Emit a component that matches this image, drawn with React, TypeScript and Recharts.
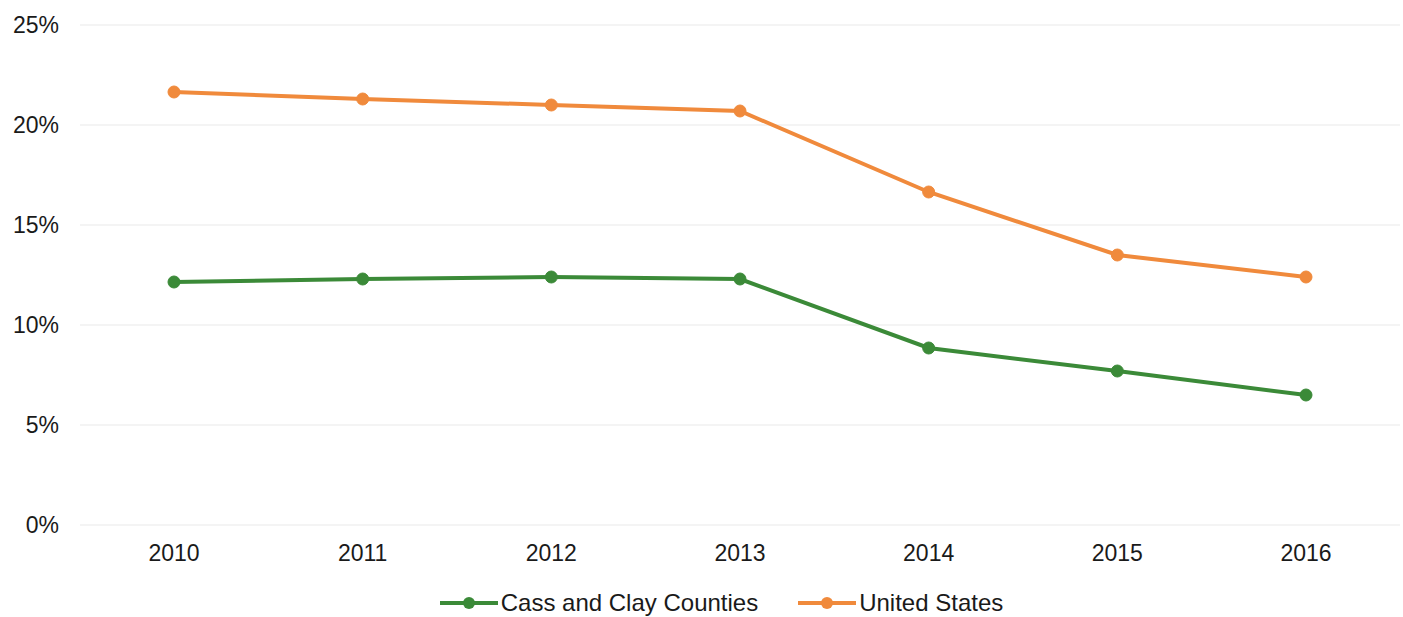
import { CartesianGrid, Line, LineChart, XAxis, YAxis } from "recharts";

const years = ["2010", "2011", "2012", "2013", "2014", "2015", "2016"];
const cassClay = [12.15, 12.3, 12.4, 12.3, 8.85, 7.7, 6.5];
const unitedStates = [21.65, 21.3, 21.0, 20.7, 16.65, 13.5, 12.4];
const yTicks = [0, 5, 10, 15, 20, 25];

const GREEN = "#3b8a38";
const ORANGE = "#f08a3c";
const FONT = "'Liberation Sans', Arial, sans-serif";

const series = [
  { key: "cass", name: "Cass and Clay Counties", color: GREEN },
  { key: "us", name: "United States", color: ORANGE },
];

const data = years.map((year, i) => ({
  year,
  cass: cassClay[i],
  us: unitedStates[i],
}));

function LegendRow() {
  return (
    <div
      style={{
        position: "absolute",
        left: 0,
        top: 589,
        width: 1403,
        display: "flex",
        justifyContent: "center",
        gap: 40,
        fontFamily: FONT,
        fontSize: 24,
        lineHeight: "28px",
        color: "#1a1a1a",
        paddingLeft: 40,
        boxSizing: "border-box",
      }}
    >
      {series.map((s) => (
        <span key={s.key} style={{ display: "flex", alignItems: "center", gap: 3 }}>
          <svg width={58} height={14}>
            <line x1={0} y1={7} x2={58} y2={7} stroke={s.color} strokeWidth={4} />
            <circle cx={29} cy={7} r={6} fill={s.color} />
          </svg>
          {s.name}
        </span>
      ))}
    </div>
  );
}

export default function App() {
  return (
    <div style={{ position: "absolute", left: 0, top: 0, width: 1403, height: 617, background: "#fff" }}>
      <LineChart
        width={1403}
        height={617}
        data={data}
        margin={{ top: 25, right: 3, bottom: 62, left: 0 }}
      >
        <CartesianGrid vertical={false} stroke="#f4f4f4" strokeWidth={2} />
        <XAxis
          dataKey="year"
          height={30}
          axisLine={false}
          tickLine={false}
          tickSize={0}
          tickMargin={20}
          padding={{ left: 94, right: 94 }}
          tick={{ fill: "#1a1a1a", fontSize: 23, fontFamily: FONT }}
        />
        <YAxis
          width={80}
          domain={[0, 25]}
          ticks={yTicks}
          interval={0}
          axisLine={false}
          tickLine={false}
          tickSize={0}
          tickMargin={21}
          tickFormatter={(v) => `${v}%`}
          tick={{ fill: "#1a1a1a", fontSize: 23, fontFamily: FONT }}
        />
        {series.map((s) => (
          <Line
            key={s.key}
            dataKey={s.key}
            name={s.name}
            stroke={s.color}
            strokeWidth={4}
            dot={{ r: 6, fill: s.color, stroke: s.color, strokeWidth: 1 }}
            isAnimationActive={false}
          />
        ))}
      </LineChart>
      <LegendRow />
    </div>
  );
}
